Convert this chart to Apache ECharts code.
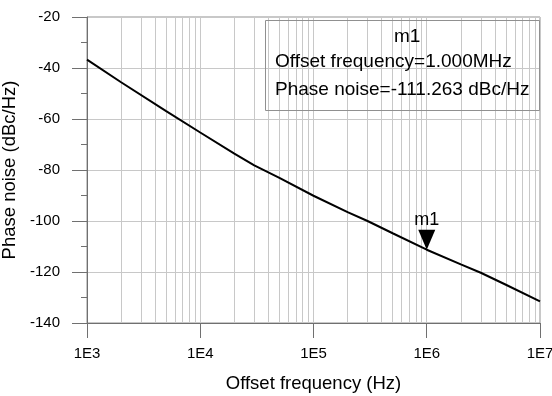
<!DOCTYPE html>
<html>
<head>
<meta charset="utf-8">
<script src="https://cdn.jsdelivr.net/npm/echarts@6/dist/echarts.min.js"></script>
<style>html,body{margin:0;padding:0;background:#fff;}#c{width:552px;height:396px;}</style>
</head>
<body>
<div id="c"></div>
<script>
// Data
const freqHz = [1e3, 2e3, 5e3, 1e4, 2e4, 3e4, 5e4, 1e5, 2e5, 3e5, 5e5, 1e6, 2e6, 3e6, 5e6, 1e7];
const phaseNoise = [-36.7, -45.6, -56.9, -65.3, -73.6, -78.2, -83.1, -90.1, -96.5, -100.0, -104.8, -111.263, -117.0, -120.3, -125.0, -131.5];
const minorGridFreqs = [2e3,3e3,4e3,5e3,6e3,7e3,8e3,9e3,2e4,3e4,4e4,5e4,6e4,7e4,8e4,9e4,2e5,3e5,4e5,5e5,6e5,7e5,8e5,9e5,2e6,3e6,4e6,5e6,6e6,7e6,8e6,9e6];
const markerFreq = 1e6;
const markerValue = -111.263;
const markerName = 'm1';
const yTicks = { min: -140, max: -20, interval: 20 };
const xRange = { min: 1e3, max: 1e7 };

const FONT = 'Liberation Sans, Arial, sans-serif';
const chart = echarts.init(document.getElementById('c'), null, { renderer: 'canvas' });
const grayGrid = '#c8c8c8';
const axisCol = '#707070';

chart.setOption({
  animation: false,
  backgroundColor: '#fff',
  grid: { left: 87, right: 12, top: 17, bottom: 73, outerBoundsMode: 'none', containLabel: false,
    show: true, borderColor: '#909090', borderWidth: 1 },
  xAxis: {
    type: 'log', logBase: 10, min: xRange.min, max: xRange.max,
    name: 'Offset frequency (Hz)', nameLocation: 'middle', nameGap: 51,
    nameTextStyle: { fontFamily: FONT, fontSize: 18.5, color: '#000' },
    axisLine: { show: true, lineStyle: { color: axisCol, width: 1 } },
    axisTick: { show: true, length: 15, lineStyle: { color: axisCol } },
    axisLabel: { fontFamily: FONT, fontSize: 15, color: '#000', margin: 23,
      formatter: v => '1E' + Math.round(Math.log10(v)) },
    splitLine: { show: true, lineStyle: { color: grayGrid, width: 1 } },
    minorTick: { show: false }, minorSplitLine: { show: false }
  },
  yAxis: {
    type: 'value', min: yTicks.min, max: yTicks.max, interval: yTicks.interval,
    name: 'Phase noise (dBc/Hz)', nameLocation: 'middle', nameGap: 62,
    nameTextStyle: { fontFamily: FONT, fontSize: 18.5, color: '#000' },
    axisLine: { show: true, lineStyle: { color: axisCol, width: 1 } },
    axisTick: { show: true, length: 15, lineStyle: { color: axisCol } },
    minorTick: { show: true, splitNumber: 2, length: 6, lineStyle: { color: axisCol } },
    axisLabel: { fontFamily: FONT, fontSize: 15, color: '#000', margin: 27 },
    splitLine: { show: true, lineStyle: { color: grayGrid, width: 1 } }
  },
  series: [{
    type: 'line',
    data: freqHz.map((f, i) => [f, phaseNoise[i]]),
    showSymbol: false, smooth: false,
    lineStyle: { color: '#000', width: 2 },
    z: 5,
    markLine: {
      silent: true, symbol: ['none', 'none'], label: { show: false },
      lineStyle: { color: grayGrid, width: 1, type: 'solid' },
      data: minorGridFreqs.map(f => ({ xAxis: f })),
      z: 1
    },
    markPoint: {
      symbol: 'triangle', symbolRotate: 180, symbolSize: [17, 20], symbolOffset: [0, -10],
      itemStyle: { color: '#000' },
      label: { show: true, position: 'top', distance: 1, formatter: markerName,
        fontFamily: FONT, fontSize: 18, color: '#000' },
      data: [{ coord: [markerFreq, markerValue] }]
    }
  }],
  graphic: [
    { type: 'rect', left: 263, top: 18, shape: { width: 274, height: 90 },
      style: { fill: 'none', stroke: '#909090', lineWidth: 1 }, z: 10 },
    { type: 'text', left: 394, top: 27, style: { text: markerName, font: '19px ' + FONT, fill: '#000' }, z: 10 },
    { type: 'text', left: 275, top: 52, style: { text: 'Offset frequency=' + (markerFreq / 1e6).toFixed(3) + 'MHz', font: '19px ' + FONT, fill: '#000' }, z: 10 },
    { type: 'text', left: 275, top: 80, style: { text: 'Phase noise=' + markerValue.toFixed(3) + ' dBc/Hz', font: '19px ' + FONT, fill: '#000' }, z: 10 }
  ]
});
</script>
</body>
</html>
